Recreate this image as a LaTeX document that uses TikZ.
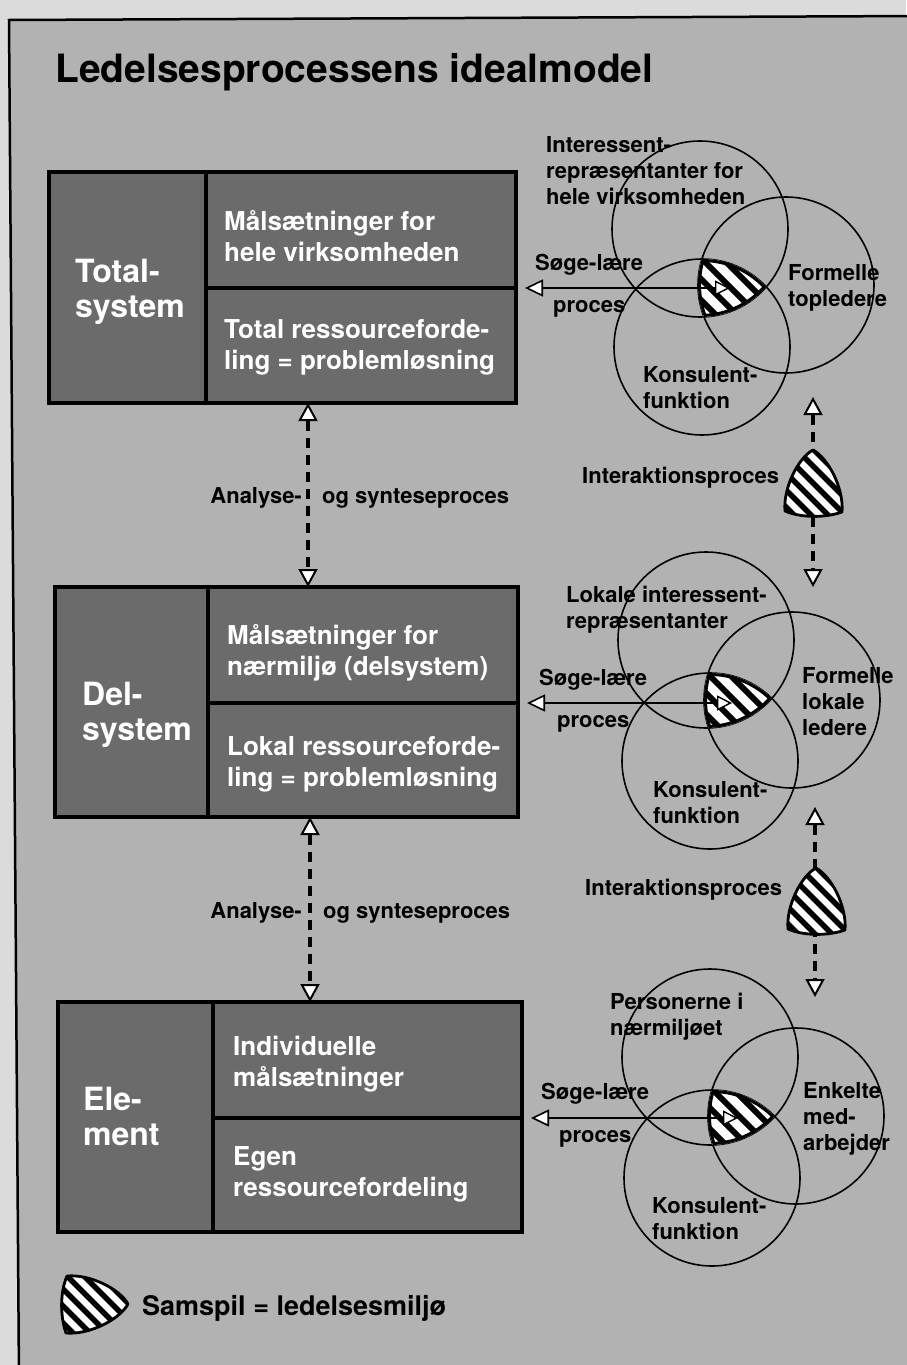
\documentclass[tikz,border=0pt]{standalone}
\usepackage{fontspec}
\setmainfont{TeX Gyre Heros}
\usetikzlibrary{arrows.meta,calc}

\definecolor{outbg}{gray}{0.86}
\definecolor{inbg}{gray}{0.70}
\definecolor{boxgray}{gray}{0.42}

\tikzset{
  cell/.style={draw=black, fill=boxgray, line width=3.2pt, anchor=north west, inner sep=0pt, outer sep=0pt},
  boxtxt/.style={font=\fontsize{26}{31}\selectfont\bfseries, text=white, align=left, inner sep=0pt, anchor=base west},
  bigtxt/.style={font=\fontsize{32}{35}\selectfont\bfseries, text=white, align=left, inner sep=0pt, anchor=base west},
  lbl/.style={font=\fontsize{22}{26}\selectfont\bfseries, align=left, inner sep=0pt, anchor=base west},
  venn/.style={draw=black, line width=1.6pt, circle, inner sep=0pt, minimum size=176pt},
  stripe/.style={line width=5.5pt, line cap=butt},
  wtip/.tip={Triangle[length=18pt,width=17pt,fill=white,line width=1.6pt]},
  stip/.tip={Triangle[length=15pt,width=15pt,fill=white,line width=1.4pt]},
  vtip/.tip={Triangle[length=18pt,width=19pt,fill=white,line width=2pt]},
  vdash/.style={line width=4pt, dash pattern=on 10pt off 7pt, arrows={vtip-vtip}},
  sl/.style={line width=1.8pt, arrows={stip-wtip}, shorten >=9pt},
}

\def\samspilpath{(0,-33) .. controls (-15,-25) and (-30,5) .. (-28,28) .. controls (-12,35) and (12,35) .. (29,29) .. controls (31,5) and (15,-25) .. (0,-33) -- cycle}

\newcommand\samspil[2]{%
  \begin{scope}[shift={#1}, rotate=#2]
    \begin{scope}
      \path[clip] \samspilpath;
      \fill[white] (-45,-45) rectangle (45,45);
      \begin{scope}[rotate=-#2]
        \foreach \k in {-102,-85,...,102} \draw[stripe] (\k-60,-60) -- ++(120,120);
      \end{scope}
    \end{scope}
    \draw[line width=2.8pt, line join=round] \samspilpath;
  \end{scope}}

\newcommand\venncore[4]{%
  \begin{scope}
    \clip (#1.center) circle[radius=88pt];
    \clip (#2.center) circle[radius=88pt];
    \clip (#3.center) circle[radius=88pt];
    \fill[white] (#4) circle[radius=60pt];
    \foreach \k in {-126,-105,...,126} \draw[line width=6pt] ($(#4)+(\k-70,-70)$) -- ++(140,140);
    \draw[line width=6pt] (#1.center) circle[radius=88pt] (#2.center) circle[radius=88pt] (#3.center) circle[radius=88pt];
  \end{scope}}

\begin{document}
\begin{tikzpicture}[x=1pt,y=-1pt]
\useasboundingbox (0,0) rectangle (906,1365);
\fill[outbg] (0,0) rectangle (906,1365);
\filldraw[fill=inbg, draw=black, line width=2.5pt] (19,1380) -- (9,20) -- (920,16) -- (920,1380) -- cycle;

% title
\node[font=\fontsize{39}{44}\selectfont\bfseries, anchor=base west, inner sep=0pt] (title) at (55,82) {Ledelsesprocessens idealmodel};

% ---------- boxes (base anchor of a multi-line node = baseline of its last line)
\node[cell, minimum width=157pt, minimum height=231pt] (T)  at (49,172) {};
\node[cell, minimum width=310pt, minimum height=116pt] (Tu) at (206,172) {};
\node[cell, minimum width=310pt, minimum height=115pt] (Tb) at (206,288) {};
\node[bigtxt] (Tl)  at (75,317.5) {Total-\\system};
\node[boxtxt] (Tut) at (224,261) {Målsætninger for\\hele virksomheden};
\node[boxtxt] (Tbt) at (224,369) {Total ressourceforde-\\ling = problemløsning};

\node[cell, minimum width=153pt, minimum height=230pt] (D)  at (55,587) {};
\node[cell, minimum width=310pt, minimum height=116pt] (Du) at (208,587) {};
\node[cell, minimum width=310pt, minimum height=114pt] (Db) at (208,703) {};
\node[bigtxt] (Dl)  at (82,740.5) {Del-\\system};
\node[boxtxt] (Dut) at (227,675) {Målsætninger for\\nærmiljø (delsystem)};
\node[boxtxt] (Dbt) at (227,786) {Lokal ressourceforde-\\ling = problemløsning};

\node[cell, minimum width=155pt, minimum height=230pt] (E)  at (58,1002) {};
\node[cell, minimum width=309pt, minimum height=116pt] (Eu) at (213,1002) {};
\node[cell, minimum width=309pt, minimum height=114pt] (Eb) at (213,1118) {};
\node[bigtxt] (El)  at (83,1145.5) {Ele-\\ment};
\node[boxtxt] (Eut) at (233,1086) {Individuelle\\målsætninger};
\node[boxtxt] (Ebt) at (233,1196) {Egen\\ressourcefordeling};

% ---------- analyse/syntese arrows
\coordinate (xa) at (308,0);
\coordinate (xb) at (310,0);
\draw[vdash] (Tb.south -| xa) -- (Du.north -| xa);
\draw[vdash] (Db.south -| xb) -- (Eu.north -| xb);
\node[lbl, anchor=base east] (an1) at (302,503) {Analyse-};
\node[lbl] (sy1) at (322,503) {og synteseproces};
\node[lbl, anchor=base east] (an2) at (302,918) {Analyse-};
\node[lbl] (sy2) at (323,918) {og synteseproces};

% ---------- venn set 1
\node[venn] (A1) at (700,229) {};
\node[venn] (B1) at (786,285) {};
\node[venn] (C1) at (702,347) {};
\coordinate (h1) at (731,288);
\venncore{A1}{B1}{C1}{h1}
\coordinate (ha1) at (730,288);
\draw[sl] (ha1) -- (ha1 -| Tu.east);
\node[lbl] (i1) at (546,204) {Interessent-\\repræsentanter for\\hele virksomheden};
\node[lbl] (s1) at (535,270) {Søge-lære};
\node[lbl] (p1) at (553,312) {proces};
\node[lbl] (f1) at (788,306) {Formelle\\topledere};
\node[lbl] (k1) at (643,408) {Konsulent-\\funktion};

% ---------- venn set 2
\node[venn] (A2) at (706,640) {};
\node[venn] (B2) at (792,700) {};
\node[venn] (C2) at (710,761) {};
\coordinate (h2) at (736,702);
\venncore{A2}{B2}{C2}{h2}
\coordinate (ha2) at (732,703);
\draw[sl] (ha2) -- (ha2 -| Du.east);
\node[lbl] (i2) at (566,628) {Lokale interessent-\\repræsentanter};
\node[lbl] (s2) at (539,685) {Søge-lære};
\node[lbl] (p2) at (557,727) {proces};
\node[lbl] (f2) at (802,735) {Formelle\\lokale\\ledere};
\node[lbl] (k2) at (653,823) {Konsulent-\\funktion};

% ---------- venn set 3
\node[venn] (A3) at (710,1057) {};
\node[venn] (B3) at (796,1116) {};
\node[venn] (C3) at (712,1178) {};
\coordinate (h3) at (740,1117);
\venncore{A3}{B3}{C3}{h3}
\coordinate (ha3) at (738,1118);
\draw[sl] (ha3) -- (ha3 -| Eu.east);
\node[lbl] (i3) at (610,1035) {Personerne i\\nærmiljøet};
\node[lbl] (s3) at (541,1099) {Søge-lære};
\node[lbl] (p3) at (559,1142) {proces};
\node[lbl] (f3) at (803,1150) {Enkelte\\med-\\arbejder};
\node[lbl] (k3) at (652,1239) {Konsulent-\\funktion};

% ---------- interaction arrows
\coordinate (iu1) at (813,397);
\coordinate (id1) at (813,587);
\draw[vdash] (iu1) -- (id1);
\samspil{(813,483)}{0}
\node[lbl] (ip1) at (582,483) {Interaktionsproces};

\coordinate (iu2) at (815,807);
\coordinate (id2) at (815,997);
\draw[vdash] (iu2) -- (id2);
\samspil{(816,901)}{0}
\node[lbl] (ip2) at (585,895) {Interaktionsproces};

% ---------- legend
\samspil{(95,1304)}{-90}
\node[font=\fontsize{27}{32}\selectfont\bfseries, anchor=base west, inner sep=0pt] (leg) at (142,1315) {Samspil = ledelsesmiljø};
\end{tikzpicture}
\end{document}
